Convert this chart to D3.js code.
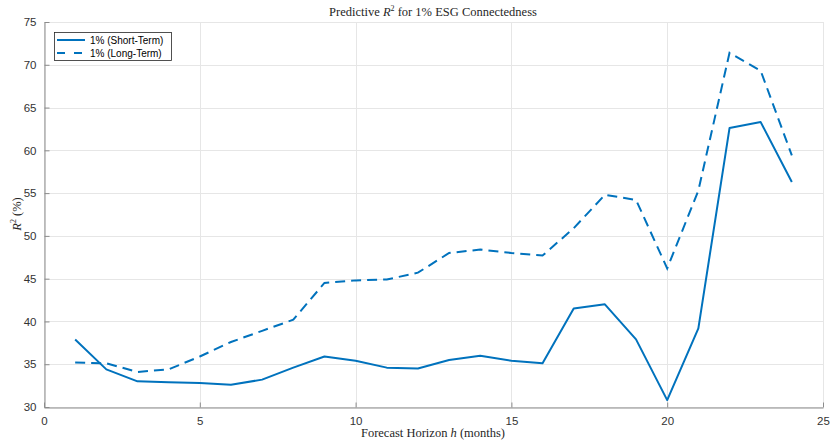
<!DOCTYPE html>
<html>
<head>
<meta charset="utf-8">
<script src="https://cdn.jsdelivr.net/npm/d3@7"></script>
<style>
  html, body { margin: 0; padding: 0; background: #fff; }
  svg { display: block; }
</style>
</head>
<body>
<svg id="chart" width="831" height="444"></svg>
<script>
// Forecast horizons (months)
const horizons = [1,2,3,4,5,6,7,8,9,10,11,12,13,14,15,16,17,18,19,20,21,22,23,24];
// Predictive R^2 (%) at the 1% quantile
const shortTerm = [37.9,34.4,33.0,32.9,32.8,32.6,33.2,34.6,35.9,35.4,34.6,34.5,35.5,36.0,35.4,35.1,41.5,42.0,37.9,30.8,39.2,62.6,63.3,56.3];
const longTerm  = [35.2,35.1,34.1,34.4,35.9,37.6,38.9,40.2,44.5,44.8,44.9,45.7,48.0,48.4,48.0,47.7,50.9,54.8,54.2,46.2,55.3,71.4,69.3,59.4];
const xTicks = [0,5,10,15,20,25];
const yTicks = [30,35,40,45,50,55,60,65,70,75];
const seriesNames = ["1% (Short-Term)", "1% (Long-Term)"];

const svg = d3.select("#chart");
const m = { left: 44, right: 8, top: 22, bottom: 37 };
const W = 831, H = 444;
const x = d3.scaleLinear().domain([0, 25]).range([m.left, W - m.right]);
const y = d3.scaleLinear().domain([30, 75]).range([H - m.bottom, m.top]);
const blue = "#0072BD";
const sans = "'Liberation Sans', Arial, sans-serif";
const serif = "'Liberation Serif', 'Times New Roman', serif";

// grid
const grid = svg.append("g").attr("stroke", "#e6e6e6").attr("stroke-width", 1);
grid.selectAll(".gx").data(xTicks).join("line")
  .attr("x1", d => Math.round(x(d)) + 0.5).attr("x2", d => Math.round(x(d)) + 0.5)
  .attr("y1", y(30)).attr("y2", y(75));
grid.selectAll(".gy").data(yTicks).join("line")
  .attr("y1", d => Math.round(y(d)) + 0.5).attr("y2", d => Math.round(y(d)) + 0.5)
  .attr("x1", x(0)).attr("x2", x(25));

// axes
const xAxis = d3.axisBottom(x).tickValues(xTicks).tickSizeInner(-5).tickSizeOuter(0).tickPadding(9);
const yAxis = d3.axisLeft(y).tickValues(yTicks).tickSizeInner(-5).tickSizeOuter(0).tickPadding(8);
const gx = svg.append("g").attr("transform", `translate(0,${Math.round(y(30)) + 0.5})`).call(xAxis);
const gy = svg.append("g").attr("transform", `translate(${Math.round(x(0)) + 0.5},0)`).call(yAxis);
[gx, gy].forEach(g => {
  g.select(".domain").attr("stroke", "#8c8c8c").attr("stroke-width", 1);
  g.selectAll(".tick line").attr("stroke", "#8c8c8c");
  g.selectAll(".tick text").attr("fill", "#333").style("font-family", sans).style("font-size", "11.5px");
});

// lines
const line = d3.line().x((d, i) => x(horizons[i])).y(d => y(d));
svg.append("path").datum(shortTerm).attr("d", line)
  .attr("fill", "none").attr("stroke", blue).attr("stroke-width", 2).attr("stroke-linejoin", "round");
svg.append("path").datum(longTerm).attr("d", line)
  .attr("fill", "none").attr("stroke", blue).attr("stroke-width", 2)
  .attr("stroke-dasharray", "10,6");

// title
const title = svg.append("text").attr("x", 433).attr("y", 16).attr("text-anchor", "middle")
  .style("font-family", serif).style("font-size", "12.5px").attr("fill", "#262626");
title.append("tspan").text("Predictive ");
title.append("tspan").text("R").style("font-style", "italic");
title.append("tspan").text("2").attr("dy", -5).style("font-size", "8px");
title.append("tspan").text(" for 1% ESG Connectedness").attr("dy", 5);

// x label
const xl = svg.append("text").attr("x", 433).attr("y", 437).attr("text-anchor", "middle")
  .style("font-family", serif).style("font-size", "12.5px").attr("fill", "#262626");
xl.append("tspan").text("Forecast Horizon ");
xl.append("tspan").text("h").style("font-style", "italic");
xl.append("tspan").text(" (months)");

// y label
const yl = svg.append("text").attr("transform", "translate(21,214) rotate(-90)").attr("text-anchor", "middle")
  .style("font-family", serif).style("font-size", "12.5px").attr("fill", "#262626");
yl.append("tspan").text("R").style("font-style", "italic");
yl.append("tspan").text("2").attr("dy", -5).style("font-size", "8px");
yl.append("tspan").text(" (%)").attr("dy", 5);

// legend
const lg = svg.append("g");
lg.append("rect").attr("x", 54.5).attr("y", 32.5).attr("width", 117).attr("height", 28)
  .attr("fill", "#fff").attr("stroke", "#262626").attr("stroke-width", 0.8);
seriesNames.forEach((name, i) => {
  const yy = 40 + i * 13;
  lg.append("line").attr("x1", 57).attr("x2", i === 1 ? 82 : 85).attr("y1", yy).attr("y2", yy)
    .attr("stroke", blue).attr("stroke-width", 2)
    .attr("stroke-dasharray", i === 1 ? "8,9" : null);
  lg.append("text").attr("x", 90).attr("y", yy + 3.5).text(name)
    .style("font-family", sans).style("font-size", "10px").attr("fill", "#000");
});
</script>
</body>
</html>
